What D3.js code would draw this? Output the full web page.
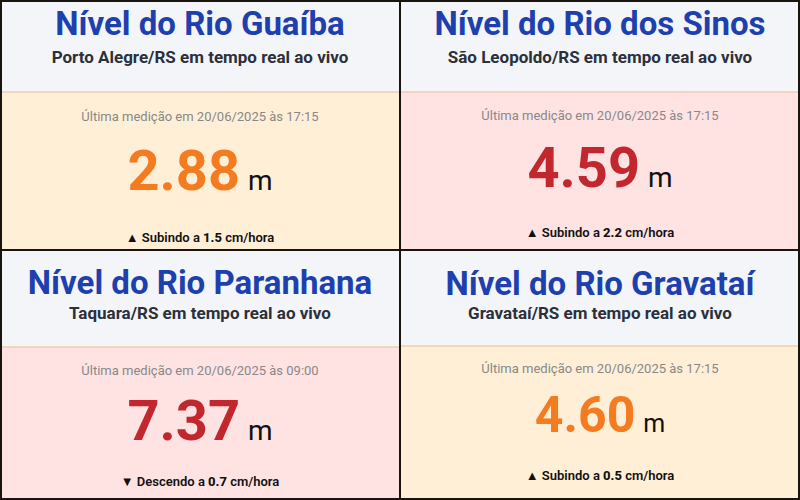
<!DOCTYPE html>
<html><head><meta charset="utf-8">
<script src="https://cdn.jsdelivr.net/npm/d3@7"></script>
<style>body{margin:0;background:#fff}svg{display:block;font-family:Roboto,"Noto Sans",sans-serif}</style>
</head><body><svg id="c" width="800" height="500"></svg>
<script>
const rivers = ["Guaíba", "dos Sinos", "Paranhana", "Gravataí"];
const places = ["Porto Alegre/RS", "São Leopoldo/RS", "Taquara/RS", "Gravataí/RS"];
const times = ["20/06/2025 às 17:15", "20/06/2025 às 17:15", "20/06/2025 às 09:00", "20/06/2025 às 17:15"];
const levels = [2.88, 4.59, 7.37, 4.60];
const rates = [1.5, 2.2, -0.7, 0.5];
const status = ["alerta", "inundacao", "inundacao", "alerta"];

const W = 800, H = 500;
const svg = d3.select("#c");
const col = d3.scaleBand().domain([0, 1]).range([0, W]);
const row = d3.scaleBand().domain([0, 1]).range([0, H]);
const bg = d3.scaleOrdinal().domain(["alerta", "inundacao"]).range(["#ffefd6", "#ffe3e3"]);
const fg = d3.scaleOrdinal().domain(["alerta", "inundacao"]).range(["#f47b20", "#c1272d"]);
// per-card layout offsets (from card top)
const headH = [92, 92, 97, 96];
const titleY = [35, 35, 44, 45];
const subY = [63, 63, 69, 69];
const dateY = [121, 120, 125, 123];
const valY = [190, 187, 190, 182];
const trendY = [242, 237, 236, 230];
const valSize = [56, 56, 56, 50];

rivers.forEach((r, i) => {
  const x0 = col(i % 2), y0 = row(Math.floor(i / 2)), w = col.bandwidth(), h = row.bandwidth();
  const cx = x0 + w / 2;
  const g = svg.append("g");
  g.append("rect").attr("x", x0).attr("y", y0).attr("width", w).attr("height", h).attr("fill", bg(status[i]));
  g.append("rect").attr("x", x0).attr("y", y0).attr("width", w).attr("height", headH[i]).attr("fill", "#f3f5f8");
  g.append("line").attr("x1", x0).attr("x2", x0 + w).attr("y1", y0 + headH[i]).attr("y2", y0 + headH[i])
    .attr("stroke", "#f0b99a").attr("stroke-width", 1);
  g.append("text").attr("x", cx).attr("y", y0 + titleY[i]).attr("text-anchor", "middle")
    .attr("font-size", 33).attr("font-weight", 700).attr("fill", "#1e40af").text("Nível do Rio " + r);
  g.append("text").attr("x", cx).attr("y", y0 + subY[i]).attr("text-anchor", "middle")
    .attr("font-size", 17).attr("font-weight", 700).attr("fill", "#2b303b").text(places[i] + " em tempo real ao vivo");
  g.append("text").attr("x", cx).attr("y", y0 + dateY[i]).attr("text-anchor", "middle")
    .attr("font-size", 13).attr("fill", "#888").text("Última medição em " + times[i]);
  const v = g.append("text").attr("x", cx).attr("y", y0 + valY[i]).attr("text-anchor", "middle");
  v.append("tspan").attr("font-size", valSize[i]).attr("font-weight", 700).attr("fill", fg(status[i]))
    .text(d3.format(".2f")(levels[i]));
  v.append("tspan").attr("font-size", valSize[i] * 0.5).attr("fill", "#111").attr("dx", 8).text("m");
  const t = g.append("text").attr("x", cx).attr("y", y0 + trendY[i]).attr("text-anchor", "middle")
    .attr("font-size", 13).attr("font-weight", 600).attr("fill", "#111");
  t.append("tspan").text((rates[i] >= 0 ? "▲ Subindo a " : "▼ Descendo a "));
  t.append("tspan").attr("font-weight", 800).text(Math.abs(rates[i]).toFixed(1));
  t.append("tspan").text(" cm/hora");
});
// grid borders
svg.append("rect").attr("x", 1).attr("y", 1).attr("width", W - 2).attr("height", H - 2)
  .attr("fill", "none").attr("stroke", "#1a1410").attr("stroke-width", 2);
svg.append("line").attr("x1", W / 2).attr("x2", W / 2).attr("y1", 0).attr("y2", H).attr("stroke", "#1a1410").attr("stroke-width", 2);
svg.append("line").attr("x1", 0).attr("x2", W).attr("y1", H / 2).attr("y2", H / 2).attr("stroke", "#1a1410").attr("stroke-width", 2);
</script></body></html>
